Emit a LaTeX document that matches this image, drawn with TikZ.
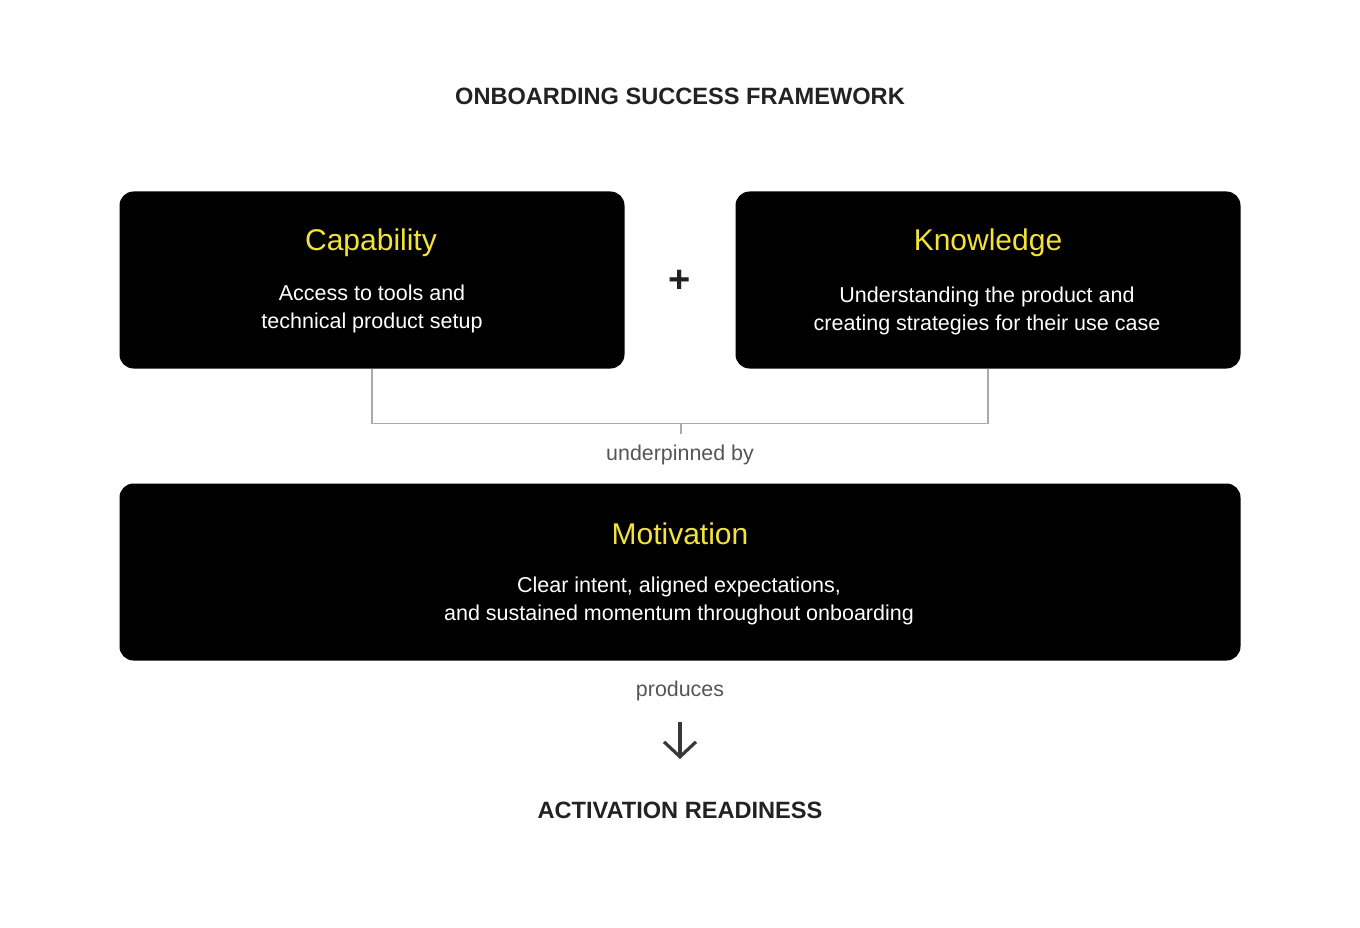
\documentclass[tikz,border=0pt]{standalone}
\usepackage{fontspec}
\setmainfont{Liberation Sans}
\usetikzlibrary{arrows.meta}
\definecolor{ttl}{HTML}{222222}
\definecolor{hl}{HTML}{F2E23A}
\definecolor{lbl}{HTML}{555555}
\definecolor{ln}{HTML}{AAAAAA}
\tikzset{
  card/.style={fill=black, draw=none, rounded corners=14pt, inner sep=0pt},
  cardtitle/.style={text=hl, font=\fontsize{30}{34}\selectfont, inner sep=0pt, anchor=center},
  cardbody/.style={text=white, font=\fontsize{21.5}{28}\selectfont, inner sep=0pt, align=center, anchor=center},
  heading/.style={text=ttl, font=\fontsize{23.6}{28}\selectfont\bfseries, inner sep=0pt},
  smalllbl/.style={text=lbl, font=\fontsize{21.4}{24}\selectfont, inner sep=0pt},
  conn/.style={draw=ln, line width=1.3pt},
}
\begin{document}
\begin{tikzpicture}[x=1pt,y=-1pt]
\useasboundingbox (0,0) rectangle (1360,928);
\node[heading] (title) at (680,96) {ONBOARDING SUCCESS FRAMEWORK};

\node[card, minimum width=505pt, minimum height=177pt] (cap) at (372,280) {};
\node[cardtitle] (capt) at (371,243) {Capability};
\node[cardbody] (capb) at (372,309) {Access to tools and\\technical product setup};

\node[text=ttl, font=\fontsize{38}{40}\selectfont\bfseries, inner sep=0pt] (plus) at (680,281) {+};

\node[card, minimum width=505pt, minimum height=177pt] (know) at (988,280) {};
\node[cardtitle] (knowt) at (988,243) {Knowledge};
\node[cardbody] (knowb) at (987,311) {Understanding the product and\\creating strategies for their use case};

\coordinate (mid) at (681,423.5);
\coordinate (tick) at (681,434);
\draw[conn] (cap.south) |- (mid) -| (know.south);
\draw[conn] (mid) -- (tick);
\node[smalllbl] (under) at (680,455) {underpinned by};

\node[card, minimum width=1121pt, minimum height=177pt] (mot) at (680,572) {};
\node[cardtitle] (mott) at (680,534) {Motivation};
\node[cardbody] (motb) at (679,601) {Clear intent, aligned expectations,\\and sustained momentum throughout onboarding};

\node[smalllbl] (prod) at (680,691) {produces};
\coordinate (atop) at (680,722);
\coordinate (abot) at (680,759);
\draw[draw=ttl!90, line width=3.2pt, -{Straight Barb[length=15pt,width=32pt,line width=3.2pt]}] (atop) -- (abot);

\node[heading] (act) at (680,810) {ACTIVATION READINESS};
\end{tikzpicture}
\end{document}
